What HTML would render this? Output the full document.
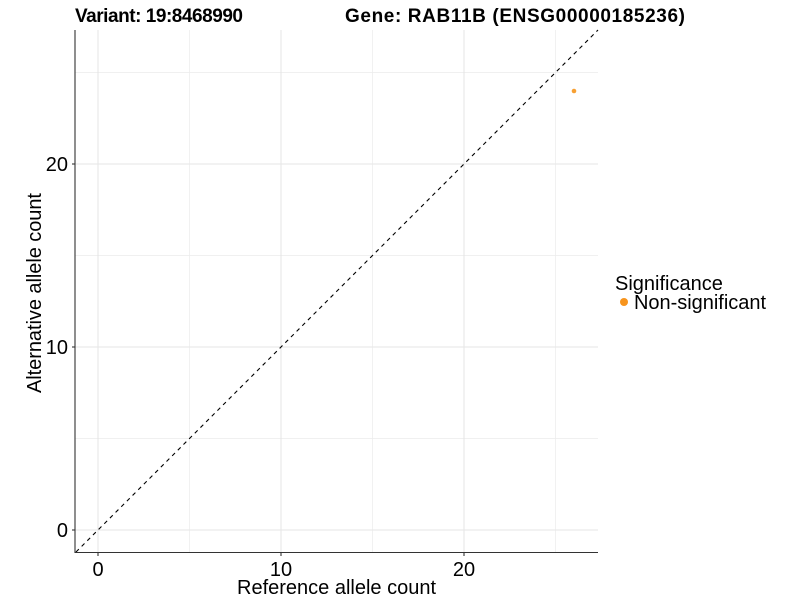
<!DOCTYPE html>
<html><head><style>body{margin:0;background:#fff}svg{display:block}text{font-family:"Liberation Sans",Arial,sans-serif}</style></head><body>
<svg width="800" height="600" xmlns="http://www.w3.org/2000/svg">
<rect width="800" height="600" fill="#fff"/>
<g stroke="#ebebeb" stroke-width="0.7">
<line x1="75" x2="598" y1="438.5" y2="438.5"/><line x1="75" x2="598" y1="255.5" y2="255.5"/><line x1="75" x2="598" y1="72.5" y2="72.5"/>
<line x1="189.5" x2="189.5" y1="30" y2="552"/><line x1="372.5" x2="372.5" y1="30" y2="552"/><line x1="555.5" x2="555.5" y1="30" y2="552"/>
</g>
<g stroke="#e6e6e6" stroke-width="1.1">
<line x1="75" x2="598" y1="530" y2="530"/><line x1="75" x2="598" y1="347" y2="347"/><line x1="75" x2="598" y1="164" y2="164"/>
<line x1="98" x2="98" y1="30" y2="552"/><line x1="281" x2="281" y1="30" y2="552"/><line x1="464" x2="464" y1="30" y2="552"/>
</g>
<line x1="76" y1="552" x2="598" y2="30" stroke="#000" stroke-width="1.1" stroke-dasharray="4,4"/>
<circle cx="574" cy="91" r="2.3" fill="#f7a033"/>
<g stroke="#333" stroke-width="1.1">
<line x1="75" y1="30" x2="75" y2="553"/><line x1="75" y1="552.5" x2="598" y2="552.5"/>
<line x1="72" x2="75" y1="530" y2="530"/><line x1="72" x2="75" y1="347" y2="347"/><line x1="72" x2="75" y1="164" y2="164"/>
<line x1="98" x2="98" y1="553" y2="556"/><line x1="281" x2="281" y1="553" y2="556"/><line x1="464" x2="464" y1="553" y2="556"/>
</g>
<g font-size="20" fill="#000">
<text x="68" y="537" text-anchor="end">0</text><text x="68" y="354" text-anchor="end">10</text><text x="68" y="171" text-anchor="end">20</text>
<text x="98" y="576" text-anchor="middle">0</text><text x="281" y="576" text-anchor="middle">10</text><text x="464" y="576" text-anchor="middle">20</text>
<text x="237" y="594" textLength="199">Reference allele count</text>
<text transform="translate(41,393) rotate(-90)" textLength="200">Alternative allele count</text>
<text x="615" y="290">Significance</text>
<text x="634" y="309" textLength="132">Non-significant</text>
</g>
<circle cx="624" cy="302" r="4" fill="#f7941d"/>
<text x="75" y="22" font-size="19" font-weight="bold" textLength="168">Variant: 19:8468990</text>
<text x="345" y="22" font-size="19" font-weight="bold" textLength="340">Gene: RAB11B (ENSG00000185236)</text>
</svg>
</body></html>
